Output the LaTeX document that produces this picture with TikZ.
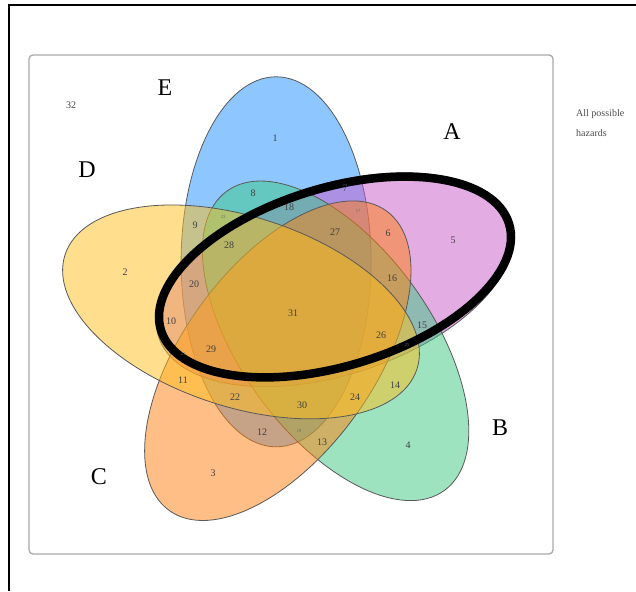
\documentclass[tikz,border=0pt]{standalone}
\usepackage{fontspec}
\setmainfont{Liberation Serif}
\definecolor{colA}{RGB}{200,90,200}
\definecolor{colB}{RGB}{60,200,130}
\definecolor{colC}{RGB}{255,127,14}
\definecolor{colD}{RGB}{255,190,30}
\definecolor{colE}{RGB}{30,144,255}
\definecolor{rimgray}{RGB}{170,170,170}
\tikzset{
  venn/.style={draw=black!65, line width=0.8pt, fill opacity=0.5},
  num/.style={text=black!75, font=\fontsize{10}{12}\selectfont, inner sep=0pt},
  tinynum/.style={text=black!60, font=\fontsize{4.5}{5}\selectfont, inner sep=0pt},
  setlabel/.style={font=\fontsize{24}{26}\selectfont, inner sep=0pt},
}
\begin{document}
\begin{tikzpicture}[x=1pt,y=1pt]
\useasboundingbox (0,0) rectangle (636,-591);
\fill[white] (0,0) rectangle (636,-591);
\draw[line width=2pt] (9,-591) -- (9,-5) -- (636,-5);
\draw[rimgray, line width=1.3pt, rounded corners=4pt] (29,-55) rectangle (553,-554);

% five sets (drawn in order E, A, B, C, D)
\path[venn, fill=colE, shift={(276.1,-261.8)}, rotate=90] (0,0) ellipse [x radius=185pt, y radius=95pt];
\path[venn, fill=colA, shift={(334.5,-279.7)}, rotate=18] (0,0) ellipse [x radius=185pt, y radius=95pt];
\path[venn, fill=colB, shift={(335.6,-340.8)}, rotate=306] (0,0) ellipse [x radius=185pt, y radius=95pt];
\path[venn, fill=colC, shift={(277.8,-360.7)}, rotate=234] (0,0) ellipse [x radius=185pt, y radius=95pt];
\path[venn, fill=colD, shift={(241.0,-311.9)}, rotate=162] (0,0) ellipse [x radius=185pt, y radius=95pt];

% highlight ring
\draw[line width=8.5pt, shift={(335,-277)}, rotate=17] (0,0) ellipse [x radius=182pt, y radius=89pt];

% region numbers
\node[num] (n1) at (275,-138) {1};
\node[num] (n2) at (125,-272) {2};
\node[num] (n3) at (213,-473) {3};
\node[num] (n4) at (408,-445) {4};
\node[num] (n5) at (453,-240) {5};
\node[num] (n6) at (388,-233) {6};
\node[num] (n7) at (345,-188) {7};
\node[num] (n8) at (253,-193) {8};
\node[num] (n9) at (195,-225) {9};
\node[num] (n10) at (171,-321) {10};
\node[num] (n11) at (183,-380) {11};
\node[num] (n12) at (262,-432) {12};
\node[num] (n13) at (322,-442) {13};
\node[num] (n14) at (395,-385) {14};
\node[num] (n15) at (422,-325) {15};
\node[num] (n16) at (392,-278) {16};
\node[tinynum] (n17) at (358,-211) {17};
\node[num] (n18) at (289,-207) {18};
\node[tinynum] (n19) at (299,-431) {19};
\node[num] (n20) at (194,-284) {20};
\node[tinynum] (n21) at (183,-354) {21};
\node[num] (n22) at (235,-397) {22};
\node[tinynum] (n23) at (223,-217) {23};
\node[num] (n24) at (355,-397) {24};
\node[tinynum] (n25) at (407,-345) {25};
\node[num] (n26) at (381,-335) {26};
\node[num] (n27) at (335,-232) {27};
\node[num] (n28) at (229,-245) {28};
\node[num] (n29) at (211,-349) {29};
\node[num] (n30) at (302,-405) {30};
\node[num] (n31) at (293,-313) {31};
\node[num] (n32) at (71,-105) {32};

% set names
\node[setlabel] (lA) at (452,-132) {A};
\node[setlabel] (lB) at (500,-428) {B};
\node[setlabel] (lC) at (99,-477) {C};
\node[setlabel] (lD) at (87,-170) {D};
\node[setlabel] (lE) at (165,-88) {E};

\node[anchor=base west, inner sep=0pt, text=black!70,
      font=\fontsize{10}{12}\selectfont] (all1) at (576,-117) {All possible};
\node[anchor=base west, inner sep=0pt, text=black!70,
      font=\fontsize{10}{12}\selectfont] (all2) at (576,-136) {hazards};
\end{tikzpicture}
\end{document}
